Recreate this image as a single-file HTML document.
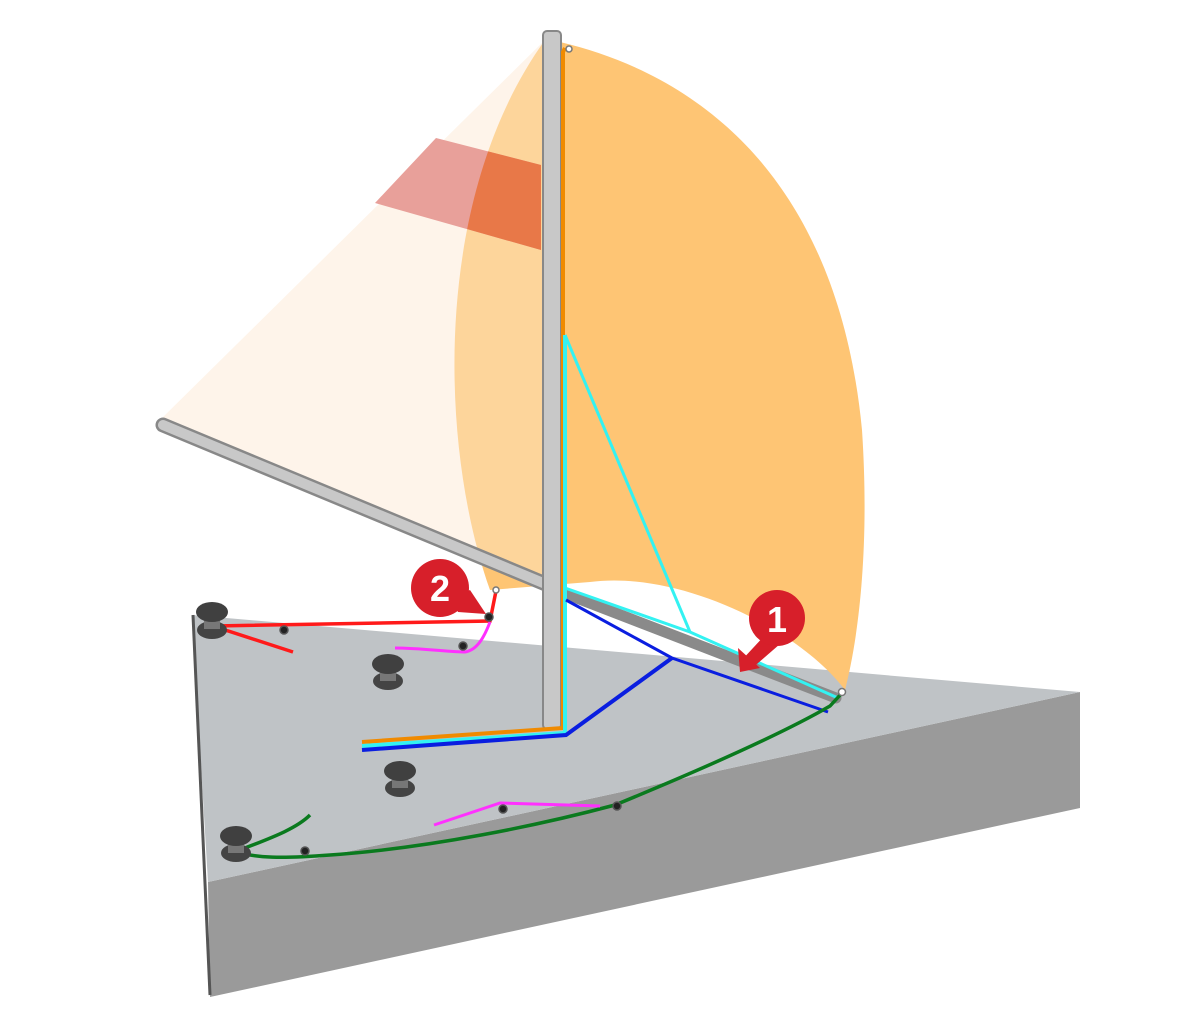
<!DOCTYPE html>
<html><head><meta charset="utf-8"><style>
html,body{margin:0;padding:0;background:#fff;}
svg{display:block;}
text{font-family:"Liberation Sans",sans-serif;font-weight:bold;}
</style></head><body>
<svg width="1200" height="1013" viewBox="0 0 1200 1013">
<defs>
<clipPath id="mainClip"><polygon points="545,40 160,420 548,585"/></clipPath>
<clipPath id="spinClip"><path d="M560,42 C720,80 840,200 862,430 C870,550 858,640 845,690 C800,630 680,570 590,582 L490,590 C440,450 430,200 545,40 Z"/></clipPath>
</defs>
<!-- deck -->
<polygon points="208,882 1080,692 1080,808 210,997" fill="#9a9a9a"/>
<polygon points="192,615 1080,692 208,882" fill="#bfc3c6"/>
<line x1="193" y1="615" x2="210" y2="995" stroke="#555" stroke-width="3"/>
<!-- spinnaker -->
<path d="M560,42 C720,80 840,200 862,430 C870,550 858,640 845,690 C800,630 680,570 590,582 L490,590 C440,450 430,200 545,40 Z" fill="#fec574"/>
<!-- mainsail -->
<polygon points="545,40 160,420 548,585" fill="#fef4ea"/>
<g clip-path="url(#mainClip)"><path d="M560,42 C720,80 840,200 862,430 C870,550 858,640 845,690 C800,630 680,570 590,582 L490,590 C440,450 430,200 545,40 Z" fill="#fdd59b"/></g>
<polygon points="436,138 375,203 541,250 541,165" fill="#e8a09a"/>
<g clip-path="url(#spinClip)"><polygon points="436,138 375,203 541,250 541,165" fill="#e87848"/></g>
<!-- boom -->
<line x1="163" y1="425" x2="548" y2="585" stroke="#888" stroke-width="15" stroke-linecap="round"/>
<line x1="163" y1="425" x2="548" y2="585" stroke="#c8c8c8" stroke-width="10" stroke-linecap="round"/>
<!-- spinnaker pole -->
<line x1="556" y1="590" x2="836" y2="698" stroke="#8a8a8a" stroke-width="11" stroke-linecap="round"/>
<!-- mast -->
<rect x="543" y="31" width="18" height="698" rx="4" fill="#c8c8c8" stroke="#888" stroke-width="2"/>
<!-- lines -->
<polyline points="565,48 563,52 563,728 362,742" fill="none" stroke="#f08a00" stroke-width="4"/>
<polyline points="565,335 565,733 362,746" fill="none" stroke="#33f2f2" stroke-width="4"/>
<polyline points="565,335 690,632" fill="none" stroke="#33f2f2" stroke-width="3"/>
<polyline points="565,588 690,632 838,698" fill="none" stroke="#33f2f2" stroke-width="3"/>
<polyline points="362,750 566,735 672,658" fill="none" stroke="#0a1ee0" stroke-width="4"/>
<polyline points="566,600 672,658 828,712" fill="none" stroke="#0a1ee0" stroke-width="3"/>
<path d="M228,848 C250,860 290,858 330,855 C430,848 540,825 615,805 C700,770 780,735 830,706 L842,693" fill="none" stroke="#0a7a1e" stroke-width="3.5"/>
<path d="M240,850 C265,840 295,830 310,815" fill="none" stroke="#0a7a1e" stroke-width="3.5"/>
<polyline points="214,626 490,621 496,591" fill="none" stroke="#ff1a1a" stroke-width="3.5"/>
<polyline points="216,627 293,652" fill="none" stroke="#ff1a1a" stroke-width="3.5"/>
<path d="M395,648 C420,648 450,652 465,652 C478,650 485,635 490,622" fill="none" stroke="#ff30ff" stroke-width="3"/>
<polyline points="434,825 500,803 600,806" fill="none" stroke="#ff30ff" stroke-width="3"/>
<!-- cleats -->
<g><ellipse cx="212" cy="630" rx="15" ry="9" fill="#444"/><rect x="204" y="613" width="16" height="16" fill="#777"/><ellipse cx="212" cy="612" rx="16" ry="10" fill="#404040"/></g>
<g><ellipse cx="388" cy="681" rx="15" ry="9" fill="#444"/><rect x="380" y="665" width="16" height="16" fill="#777"/><ellipse cx="388" cy="664" rx="16" ry="10" fill="#404040"/></g>
<g><ellipse cx="400" cy="788" rx="15" ry="9" fill="#444"/><rect x="392" y="772" width="16" height="16" fill="#777"/><ellipse cx="400" cy="771" rx="16" ry="10" fill="#404040"/></g>
<g><ellipse cx="236" cy="853" rx="15" ry="9" fill="#444"/><rect x="228" y="837" width="16" height="16" fill="#777"/><ellipse cx="236" cy="836" rx="16" ry="10" fill="#404040"/></g>
<!-- blocks -->
<g fill="#222" stroke="#555" stroke-width="1.5">
<circle cx="284" cy="630" r="4"/><circle cx="463" cy="646" r="4"/><circle cx="489" cy="617" r="4"/>
<circle cx="305" cy="851" r="4"/><circle cx="503" cy="809" r="4"/><circle cx="617" cy="806" r="4"/>
</g>
<g fill="#fff" stroke="#777" stroke-width="1.5">
<circle cx="569" cy="49" r="3"/><circle cx="496" cy="590" r="3"/><circle cx="842" cy="692" r="3.5"/>
</g>
<!-- badges -->
<g>
<polygon points="452,598 470,590 486,614 458,612" fill="#d71f2a"/>
<circle cx="440" cy="588" r="29" fill="#d71f2a"/>
<text x="440" y="601" font-size="36" fill="#fff" text-anchor="middle">2</text>
</g>
<g>
<polygon points="766,634 780,644 750,670 740,662" fill="#d71f2a"/>
<polygon points="738,648 760,668 740,672" fill="#d71f2a"/>
<circle cx="777" cy="618" r="28" fill="#d71f2a"/>
<text x="777" y="632" font-size="36" fill="#fff" text-anchor="middle">1</text>
</g>
</svg>
</body></html>
